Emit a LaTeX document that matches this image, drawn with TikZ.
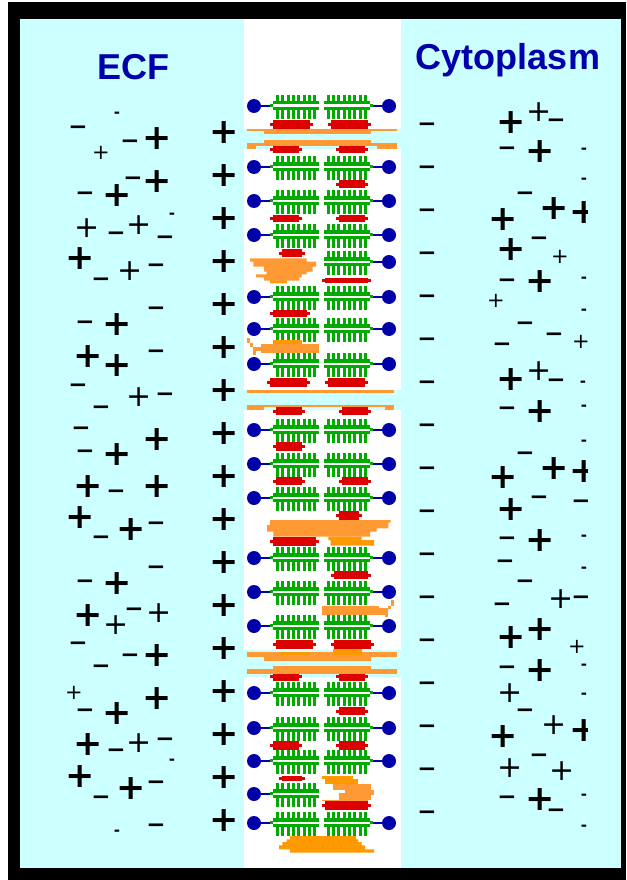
\documentclass[tikz,border=0pt]{standalone}
\usepackage{fontspec}
\setmainfont{Liberation Sans}
\newfontfamily\signfont{DejaVu Sans}

\definecolor{ecfcyan}{HTML}{CCFFFF}
\definecolor{txtblue}{HTML}{0000AA}
\definecolor{headblue}{HTML}{0000AA}
\definecolor{lipgreen}{HTML}{00AA00}
\definecolor{lipred}{HTML}{DD0000}
\definecolor{orlight}{HTML}{FF9933}
\definecolor{ordark}{HTML}{FF9900}

% glyphs used by the charge markers, boxed tightly around the math axis
\newcommand\glyphbox[2]{\makebox[#1]{\raisebox{0pt}[0.6em][-0.03em]{#2}}}
\newcommand\glyphbar[2]{\makebox[#1]{\raisebox{0pt}[0.35em][-0.28em]{#2}}}
\newcommand\glyphP{\glyphbox{0.6em}{+}}
\newcommand\glyphp{\glyphbox{0.6em}{+}}
\newcommand\glyphs{\glyphbox{0.6em}{+}}
\newcommand\glyphm{\glyphbar{0.6em}{−}}
\newcommand\glyphd{\glyphbar{0.3em}{-}}

\tikzset{
  title/.style={font=\bfseries\fontsize{36}{36}\selectfont, text=txtblue, inner sep=0pt, anchor=base},
  sgnP/.style={font=\signfont\bfseries\fontsize{35}{35}\selectfont, inner sep=0pt, text=black},
  sgnp/.style={font=\signfont\fontsize{30}{30}\selectfont, inner sep=0pt, text=black},
  sgns/.style={font=\signfont\fontsize{21}{21}\selectfont, inner sep=0pt, text=black},
  sgnm/.style={font=\signfont\bfseries\fontsize{23}{23}\selectfont, inner sep=0pt, text=black},
  sgnd/.style={font=\signfont\bfseries\fontsize{15}{15}\selectfont, inner sep=0pt, text=black},
  % one phospholipid: head, linker and comb of fatty-acid tails
  lipid/.pic={
    \fill[headblue] (0,0) circle[radius=7];
    \fill[headblue] (6,-1.2) rectangle (17,1.2);
    \fill[lipgreen] (19,-4.6) rectangle (65,-1.5);
    \fill[lipgreen] (19,1.0) rectangle (65,4.1);
    \fill[lipgreen] (16,-1.6) rectangle (19.2,1.1);
    \foreach \t in {0,...,7}{
      \fill[lipgreen] ({22+5.33*\t},-10.8) rectangle ++(3.1,6.3);
      \fill[lipgreen] ({22+5.33*\t},4) rectangle ++(3.1,8.6);
    }
  }
}

\begin{document}
\begin{tikzpicture}[x=1pt,y=-1pt]
\useasboundingbox (0,0) rectangle (626,880);

% frame and the two fluid compartments
\fill[white] (0,0) rectangle (626,880);
\fill[black] (8,2) rectangle (626,880);
\fill[ecfcyan] (20,19) rectangle (621,868);

% membrane strip, interrupted by three channels
\fill[white] (244,19) rectangle (401,129);
\fill[white] (244,149) rectangle (401,390);
\fill[white] (244,410) rectangle (401,650);
\fill[white] (244,677) rectangle (401,868);

% phospholipid rows
\foreach \r [count=\i] in {106,167,201,235,297,329,364,430,464,498,558,592,626,693,728,761,823} {
  \pic (lipl\i) at (254,\r) {lipid};
  \pic[xscale=-1] (lipr\i) at (389,\r) {lipid};
}
\pic[xscale=-1] (liprx) at (389,262) {lipid};
\pic (liplx) at (254,794) {lipid};

% membrane proteins
\foreach \a/\b/\c/\d in {
  270/120/313/129, 328/120/371/129, 270/146/302/153, 336/146/368/153,
  336/180/368/188, 270/215/302/222, 336/215/368/222, 279/249/305/257,
  322/278/371/283, 270/310/310/317, 267/378/310/387, 325/378/368/387,
  273/407/305/415, 339/407/371/415, 273/442/305/451, 273/477/305/485,
  339/477/371/485, 336/511/362/520, 270/537/319/546, 331/571/371/579,
  273/640/316/649, 331/640/374/649, 270/672/302/681, 336/672/368/681,
  336/707/368/715, 270/741/302/750, 336/741/368/750, 279/776/305/781,
  322/801/371/810} {
  \fill[lipred] ({\a+3},\b) rectangle ({\c-3},\d);
  \fill[lipred] (\a,{(\b+\d)/2-1.5}) rectangle (\c,{(\b+\d)/2+1.5});
}

% channel linings
\fill[orlight] (247,129) rectangle (397,131);
\fill[orlight] (264,131) rectangle (371,134);
\fill[orlight] (264,140) rectangle (371,143);
\fill[orlight] (247,143) rectangle (397,146);
\fill[orlight] (247,146) rectangle (256,149);
\fill[orlight] (377,146) rectangle (397,149);

\fill[orlight] (247,390) rectangle (394,393);
\fill[orlight] (264,405) rectangle (385,407);
\fill[orlight] (247,405) rectangle (264,410);
\fill[orlight] (385,405) rectangle (394,410);

\fill[orlight] (247,652) rectangle (397,657);
\fill[ordark] (279,652) rectangle (310,655);
\fill[ordark] (333,649) rectangle (362,655);
\fill[orlight] (264,657) rectangle (371,661);
\fill[orlight] (273,666) rectangle (371,669);
\fill[orlight] (247,669) rectangle (397,674);

% carbohydrate / protein blobs
\fill[orlight] (250,258.3) -- (306.7,258.3) -- (306.7,261.7) -- (316,261.7) -- (316,266.7)
  -- (312.7,266.7) -- (312.7,271.7) -- (306.7,271.7) -- (306.7,274.3) -- (301.7,274.3)
  -- (301.7,277.3) -- (299.3,277.3) -- (299.3,280.7) -- (286.7,280.7) -- (286.7,283.3)
  -- (270,283.3) -- (270,280.7) -- (264,280.7) -- (264,277.3) -- (256,277.3) -- (256,274.3)
  -- (266.7,274.3) -- (266.7,271.7) -- (264,271.7) -- (264,266.7) -- (253.3,266.7)
  -- (253.3,261.7) -- (250,261.7) -- cycle;
\fill[ordark] (270,280.7) rectangle (286.7,283.3);

\fill[ordark] (273,340) rectangle (302,344);
\fill[orlight] (261,344) rectangle (319,353);
\fill[orlight] (247,338) rectangle (250,343);
\fill[orlight] (250,343) rectangle (253,347);
\fill[orlight] (253,347) rectangle (261,351);
\fill[orlight] (253,351) rectangle (256,355);

\fill[orlight] (270,520) -- (390.7,520) -- (390.7,522.7) -- (388.3,522.7) -- (388.3,528.3)
  -- (376.7,528.3) -- (376.7,531.7) -- (370,531.7) -- (370,536.7) -- (273.3,536.7)
  -- (273.3,531.7) -- (267,531.7) -- (267,525) -- (270,525) -- cycle;
\fill[ordark] (328.3,536.7) -- (361.7,536.7) -- (361.7,540) -- (374,540) -- (374,545.7)
  -- (330.7,545.7) -- (330.7,540) -- (328.3,540) -- cycle;

\fill[orlight] (322,606) rectangle (379,615);
\fill[orlight] (379,608) rectangle (388,615);
\fill[orlight] (385,615) rectangle (388,617);
\fill[orlight] (388,606) rectangle (391,608.5);
\fill[orlight] (391,600) rectangle (394,606);

\fill[ordark] (322,776) rectangle (353,778.5);
\fill[ordark] (325,778.5) rectangle (358,784);
\fill[orlight] (333,784) rectangle (371,790);
\fill[orlight] (345,790) rectangle (374,795);
\fill[orlight] (339,793) rectangle (371,799.5);
\fill[orlight] (322,799.5) rectangle (368,801);

\fill[ordark] (290,836) -- (356,836) -- (356,839.3) -- (358.3,839.3) -- (358.3,842)
  -- (361.7,842) -- (361.7,845.3) -- (365,845.3) -- (365,849.3) -- (374,849.3)
  -- (374,852.7) -- (290,852.7) -- (290,849.3) -- (279,849.3) -- (279,845.3)
  -- (282.3,845.3) -- (282.3,842) -- (286.7,842) -- (286.7,839.3) -- (290,839.3) -- cycle;

% compartment labels
\node[title] (ecf) at (133,80) {ECF};
\node[title] (cyto) at (508,70) {Cytoplasm};

% charges lined up along the membrane
\foreach \k in {0,...,16} {
  \node[sgnP] (cp\k) at (224,{133+43*\k}) {\glyphP};
  \node[sgnm] (cm\k) at (427,{127+43*\k}) {\glyphm};
}

% free charges in the extracellular fluid
\foreach \x/\y/\t [count=\i] in {
  117/115/d, 78/130/m, 130/144/m, 157/139/P, 101/153/s, 133/181/m, 157/182/P,
  85/196/m, 117/196/P, 172/216/d, 87/228/p, 139/225/p, 116/236/m, 165/240/m,
  80/259/P, 101/282/m, 130/271/p, 156/268/m, 156/311/m, 85/325/m, 117/325/P,
  88/357/P, 117/366/P, 156/354/m, 78/388/m, 139/397/p, 165/397/m, 101/410/m,
  81/431/m, 157/440/P, 85/454/m, 117/455/P, 88/487/P, 157/487/P, 116/494/m,
  80/518/P, 131/530/P, 156/526/m, 101/540/m, 156/570/m, 85/584/m, 117/584/P,
  88/616/P, 116/625/p, 134/612/m, 159/613/p, 78/646/m, 101/669/m, 130/658/m,
  157/656/P, 74/693/s, 85/713/m, 117/714/P, 157/699/P, 88/745/P, 116/753/m,
  139/743/p, 165/742/m, 172/762/d, 80/777/P, 131/789/P, 156/785/m, 101/800/m,
  117/833/d, 156/828/m} {
  \node[sgn\t] (l\i) at (\x,\y) {\csname glyph\t\endcsname};
}

% free charges in the cytoplasm
\begin{scope}
\clip (400,19) rectangle (587.5,868);
\foreach \x/\y/\t [count=\i] in {
  511/123/P, 539/112/p, 556/123/m, 507/151/m, 540/152/P, 584/151/d, 584/181/d,
  525/196/m, 503/220/P, 554/209/P, 584.5/213/P, 511/250/P, 539/241/m, 560/257/s,
  507/283/m, 540/282/P, 584/280/d, 496/301/s, 584/312/d, 525/326/m, 554/337/m,
  502/347/m, 581/342/s, 511/380/P, 539/371/p, 556/383/m, 583/384/d, 507/411/m,
  540/412/P, 584/408/d, 584/443/d, 525/456/m, 554/469/P, 584.5/472/P, 503/478/P,
  511/510/P, 539/500/m, 581/504/m, 507/541/m, 540/541/P, 584/538/d, 505/564/m,
  584/570/d, 525/584/m, 502/607/m, 561/599/p, 581/600/m, 511/638/P, 540/630/P,
  577/647/s, 507/670/m, 540/671/P, 584/667/d, 510/693/p, 584/696/d, 525/713/m,
  503/737/P, 554/725/p, 584.5/731/P, 510/768/p, 539/758/m, 562/771/p, 507/800/m,
  540/800/P, 556/813/m, 584/797/d, 584/828/d} {
  \node[sgn\t] (r\i) at (\x,\y) {\csname glyph\t\endcsname};
}
\end{scope}
\end{tikzpicture}
\end{document}
